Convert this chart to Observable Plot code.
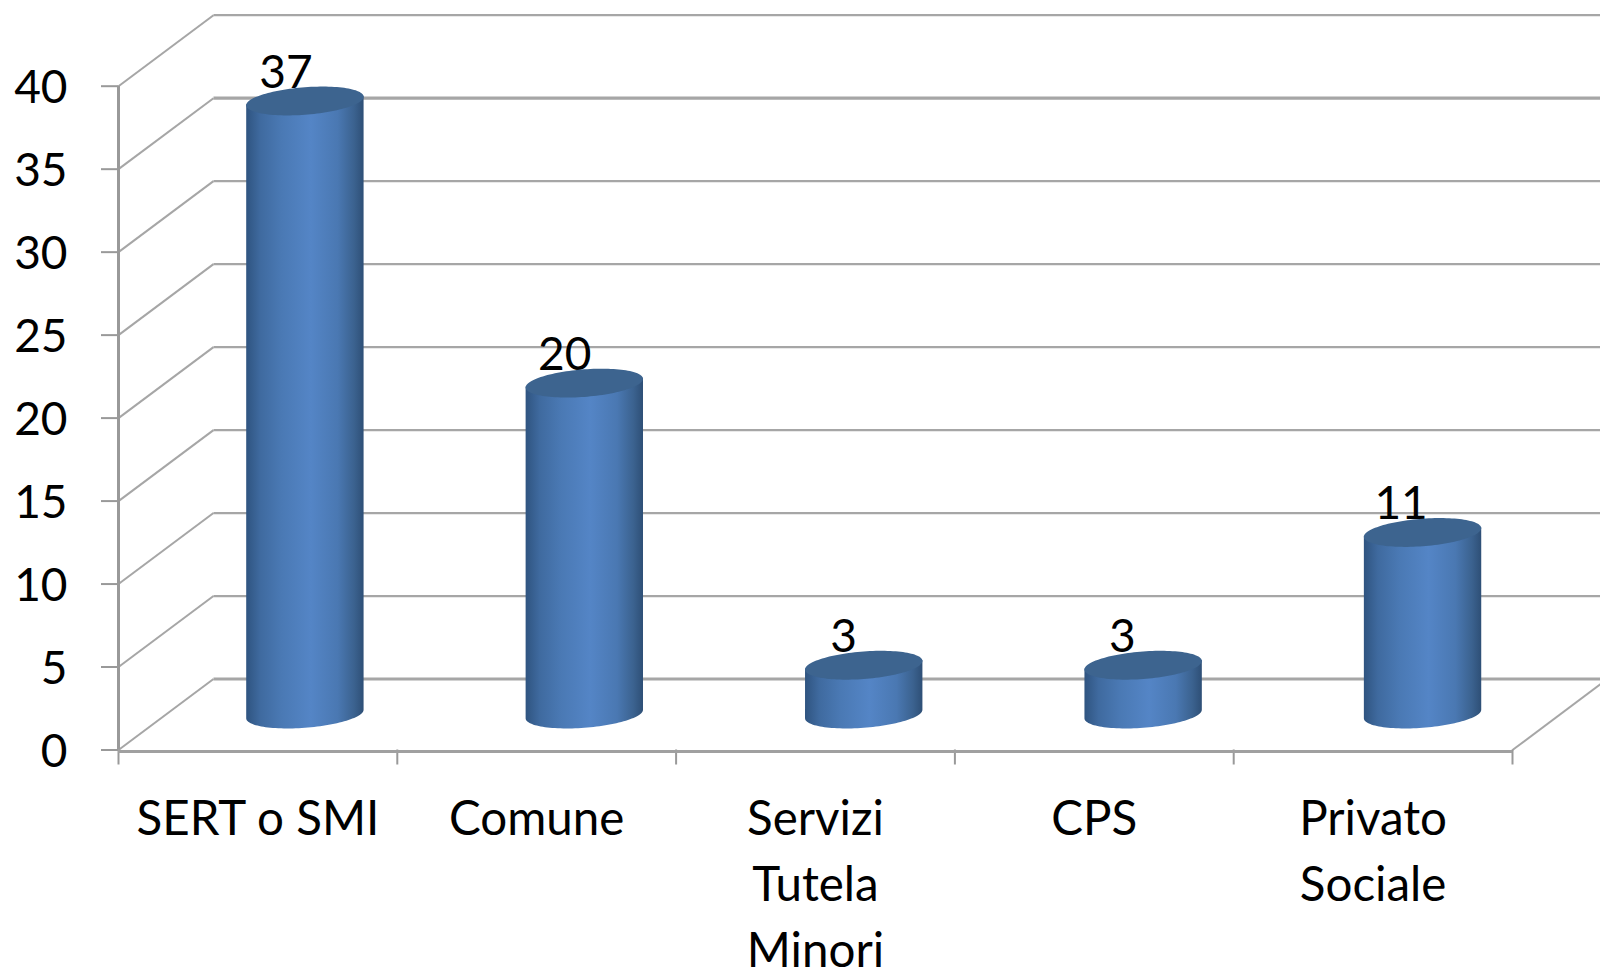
<!DOCTYPE html>
<html>
<head>
<meta charset="utf-8">
<script src="https://cdn.jsdelivr.net/npm/d3@7"></script>
<script src="https://cdn.jsdelivr.net/npm/@observablehq/plot@0.6"></script>
<style>html,body{margin:0;padding:0;background:#fff;overflow:hidden}</style>
</head>
<body>
<div id="chart"></div>
<script>
const categories = ["SERT o SMI", "Comune", "Servizi\nTutela\nMinori", "CPS", "Privato\nSociale"];
const values = [37, 20, 3, 3, 11];
const yTicks = [0, 5, 10, 15, 20, 25, 30, 35, 40];
const xTicks = [0, 1, 2, 3, 4, 5];

// 3-D projection, in data units: depth of the box, and the cylinder's cross-section
const depthX = 0.3407, depthY = 4.277;
const semiX = 0.2105, shear = 0.26, semiY = 0.83;
const spacing = 1.0022;
const angles = d3.range(0, 61).map(i => i * Math.PI / 60);

const table = categories.map((c, i) => ({c, i, v: values[i], cx: i * spacing + 0.5 + depthX / 2, lx: i + 0.5 + depthX / 2, cy: depthY / 2}));
const bodies = table.flatMap(d => angles.map(t => ({
  i: d.i, x: d.cx + semiX * Math.cos(t),
  y1: d.cy + shear * Math.cos(t) - semiY * Math.sin(t),
  y2: d.cy + d.v + shear * Math.cos(t)
})));
const caps = table.flatMap(d => angles.map(t => ({
  i: d.i, x: d.cx + semiX * Math.cos(t),
  y1: d.cy + d.v + shear * Math.cos(t) - semiY * Math.sin(t),
  y2: d.cy + d.v + shear * Math.cos(t) + semiY * Math.sin(t)
})));

const gridColor = "#a6a6a6";
const gradient = () => {
  const defs = d3.create("svg:defs");
  const g = defs.append("linearGradient").attr("id", "cyl").attr("x1", 0).attr("x2", 1).attr("y1", 0).attr("y2", 0);
  [[0, "#2f5480"], [0.12, "#3f6a9f"], [0.3, "#4a79b4"], [0.55, "#5485c6"], [0.78, "#4a78b2"], [0.92, "#3b628f"], [1, "#2e4f76"]]
    .forEach(([o, c]) => g.append("stop").attr("offset", o).attr("stop-color", c));
  return defs.node();
};

const chart = Plot.plot({
  width: 1600,
  height: 967,
  marginLeft: 118,
  marginRight: 88,
  marginTop: 85.7,
  marginBottom: 217.5,
  x: {domain: [0, 5]},
  y: {domain: [0, 40]},
  style: {fontFamily: "Lato, sans-serif", background: "#fff"},
  marks: [
    gradient,
    // back wall
    Plot.link(yTicks, {x1: depthX, x2: 5 + depthX, y1: v => v + depthY, y2: v => v + depthY,
      stroke: gridColor, strokeWidth: v => (v === 0 || v === 35) ? 3.2 : 2.3, strokeOpacity: 1}),
    // side wall
    Plot.link(yTicks, {x1: 0, x2: depthX, y1: v => v, y2: v => v + depthY, stroke: gridColor, strokeWidth: 2}),
    // right edge of the floor
    Plot.link([0], {x1: 5, x2: 5 + depthX, y1: 0, y2: depthY, stroke: gridColor, strokeWidth: 2}),
    // axes
    Plot.axisY({ticks: yTicks, tickSize: 17, stroke: "#999", strokeWidth: 2, tickFormat: () => "", label: null}),
    Plot.ruleX([0], {y1: 0, y2: 40, stroke: "#999", strokeWidth: 3}),
    Plot.axisX({ticks: xTicks, tickSize: 15, tickFormat: () => "", label: null, stroke: "#999", strokeWidth: 2}),
    Plot.ruleY([0], {stroke: "#a0a0a0", strokeWidth: 3, dy: 1.5}),
    // y tick labels
    Plot.text(yTicks, {x: 0, y: d => d, text: d => String(d), dx: -51, dy: 2, textAnchor: "end", fontSize: 46, fill: "#000"}),
    // category labels
    Plot.text(categories, {x: (d, i) => i + 0.5, y: 0, text: d => d, lineAnchor: "top", dy: 38, lineHeight: 1.39, fontSize: 47.5, fill: "#000"}),
    // value labels
    Plot.text(table, {x: d => d.lx, y: d => d.cy + d.v, text: d => String(d.v), dx: -19.5, dy: -12.5, lineAnchor: "bottom", fontSize: 46, fill: "#000"}),
    // cylinders
    Plot.area(bodies, {x1: "x", y1: "y1", y2: "y2", z: "i", fill: "url(#cyl)"}),
    Plot.area(caps, {x1: "x", y1: "y1", y2: "y2", z: "i", fill: "#3d648f", dy: 1})
  ]
});
document.getElementById("chart").appendChild(chart);
</script>
</body>
</html>
